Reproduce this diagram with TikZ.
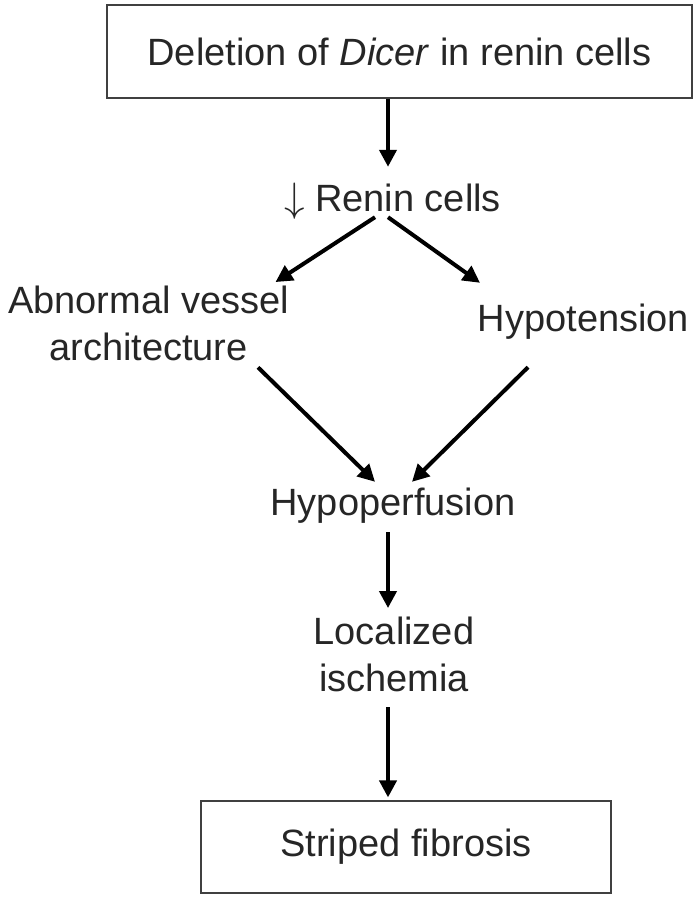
\documentclass[tikz,border=0pt]{standalone}
\usepackage{graphicx}
\usepackage{fontspec}
\setmainfont{Liberation Sans}
\usetikzlibrary{arrows.meta}
\tikzset{>={Triangle[length=17pt,width=17pt]}}
\tikzset{stepbox/.style={draw=black!75, line width=1.2pt, inner sep=0pt}}
\tikzset{lbl/.style={inner sep=0pt, text=black!85, font=\fontsize{38}{47}\selectfont}}
\tikzset{oneline/.style={lbl, text height=28pt, text depth=8pt, anchor=base}}
\tikzset{flow/.style={->, line width=4pt}}

\begin{document}
\begin{tikzpicture}[x=1pt, y=-1pt]
    \useasboundingbox (0,0) rectangle (699,899);
    \coordinate (axis) at (388,0);

    \node[stepbox, lbl, minimum width=585pt, minimum height=93pt] (dicer) at (399.5,51.5) {Deletion of \textit{Dicer} in renin cells};
    \node[oneline] (renin) at (392.5,211) {\scalebox{1.65}{$\downarrow$} Renin cells};
    \node[lbl, align=center] (vessel) at (148.5,323.7) {Abnormal vessel\\architecture};
    \node[oneline] (hypot) at (583.5,331) {Hypotension};
    \node[oneline] (hypo) at (393,515) {Hypoperfusion};
    \node[lbl, align=center] (isch) at (394,654.7) {Localized\\ischemia};
    \node[stepbox, lbl, minimum width=410pt, minimum height=92pt] (fib) at (406,847) {Striped fibrosis};

    \draw[flow, shorten >=16pt] (dicer.south -| axis) -- (renin.north -| axis);
    \draw[flow] ([xshift=-17.5pt,yshift=2pt]renin.south) -- ([xshift=127pt,yshift=4pt]vessel.north);
    \draw[flow] ([xshift=-4.5pt,yshift=2pt]renin.south) -- ([xshift=-103.5pt,yshift=20pt]hypot.north);
    \draw[flow] ([xshift=109.5pt,yshift=-6pt]vessel.south) -- ([xshift=-18pt,yshift=5pt]hypo.north);
    \draw[flow] ([xshift=-55.5pt,yshift=-28pt]hypot.south) -- ([xshift=19pt,yshift=5pt]hypo.north);
    \draw[flow, shorten <=9pt, shorten >=9pt] (hypo.south -| axis) -- (isch.north -| axis);
    \draw[flow, shorten <=15pt, shorten >=3pt] (isch.south -| axis) -- (fib.north -| axis);
\end{tikzpicture}
\end{document}
